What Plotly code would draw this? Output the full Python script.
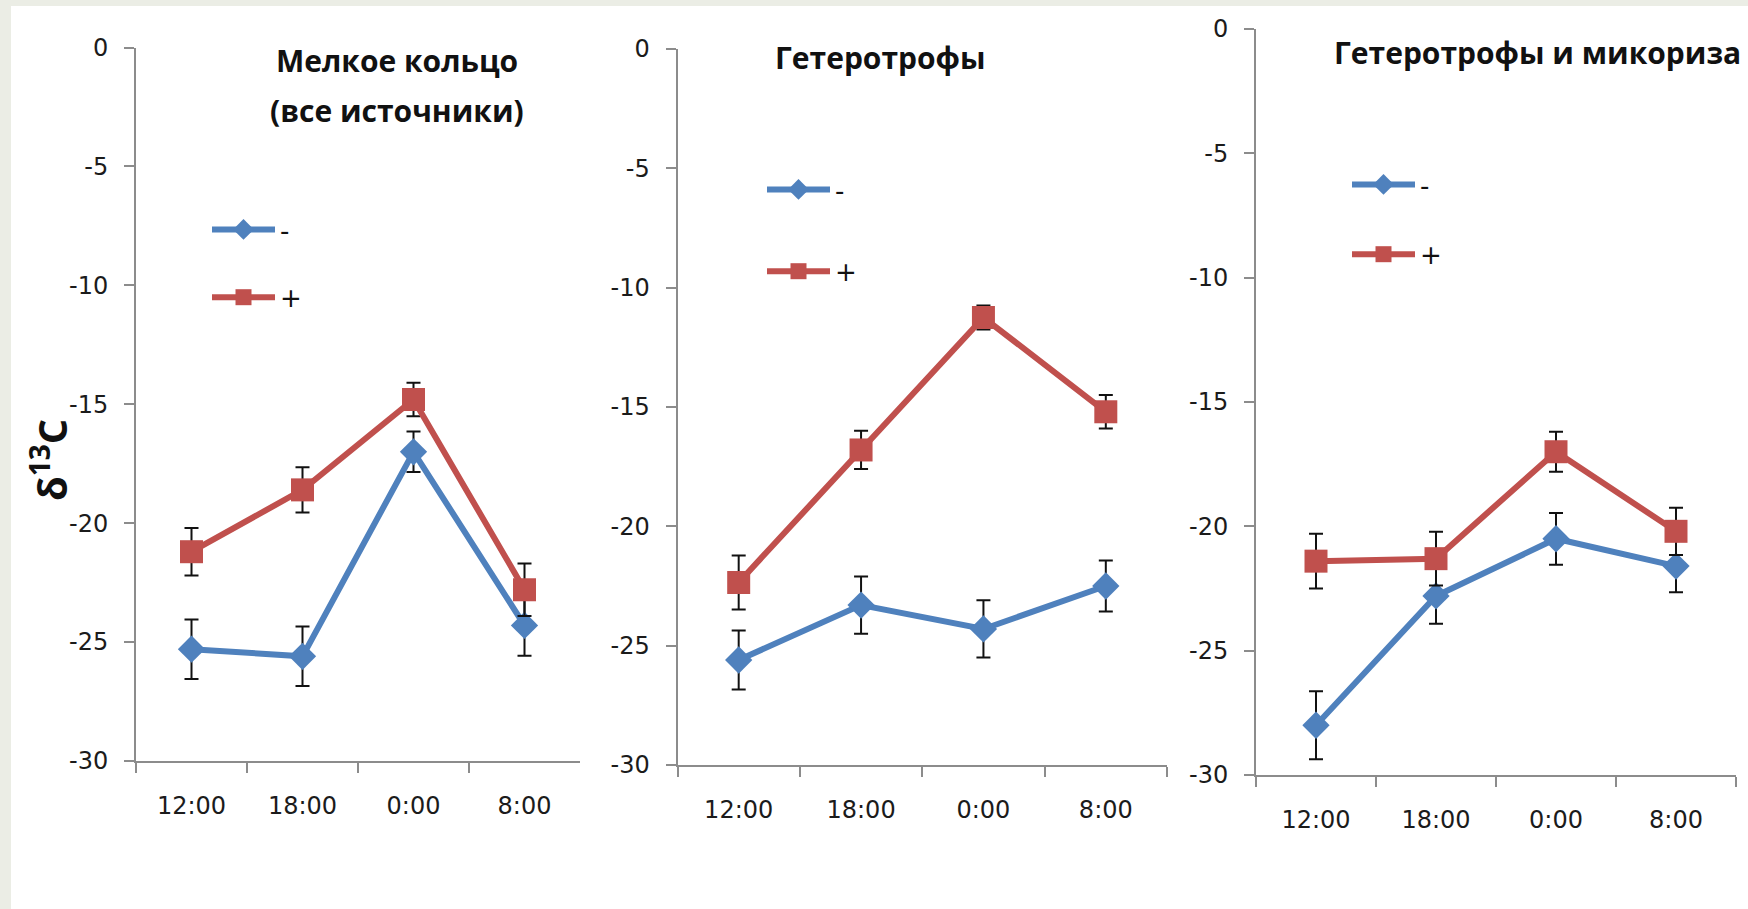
import plotly.graph_objects as go

# Sampling times (categories on every x-axis)
times = ["12:00", "18:00", "0:00", "8:00"]

# Panel titles
titles = [["Мелкое кольцо", "(все источники)"], ["Гетеротрофы"], ["Гетеротрофы и микориза"]]

# δ13C means and error-bar half-widths, "-" treatment
minus_vals = [
    [-25.3, -25.6, -17.0, -24.3],
    [-25.6, -23.3, -24.3, -22.5],
    [-28.0, -22.8, -20.5, -21.6],
]
minus_err = [
    [1.25, 1.25, 0.85, 1.27],
    [1.24, 1.2, 1.2, 1.07],
    [1.37, 1.12, 1.04, 1.05],
]

# δ13C means and error-bar half-widths, "+" treatment
plus_vals = [
    [-21.2, -18.6, -14.8, -22.8],
    [-22.35, -16.8, -11.25, -15.2],
    [-21.4, -21.3, -17.0, -20.2],
]
plus_err = [
    [1.0, 0.95, 0.7, 1.1],
    [1.13, 0.8, 0.5, 0.7],
    [1.1, 1.08, 0.8, 0.95],
]

series_names = ["-", "+"]

# Y-axis ticks (hyphen-minus labels)
y_tickvals = [0, -5, -10, -15, -20, -25, -30]
y_ticktext = ["0", "-5", "-10", "-15", "-20", "-25", "-30"]

W, H = 1748, 909
BLUE = "#4F81BD"
RED = "#C0504D"
AXIS = "#8C8C8C"
TICK_FONT = dict(family="DejaVu Sans", size=24, color="#1b1b1b")


def px_x(v):
    return v / W


def px_y(v):
    return 1 - v / H


# Plot-area boxes in pixels: (left, right, top, bottom)
boxes = [(136, 580, 47.5, 761), (677.5, 1167, 49, 765), (1256, 1736, 29, 775)]
# Legend anchor in pixels (left, top) and the vertical gap between its items
legend_pos = [(207, 206, 31), (762, 166, 45), (1347, 161, 33)]
# Title positions in pixels (center x, center y of each line)
title_pos = [[(397, 60), (397, 110)], [(881, 58)], [(1537, 53)]]

fig = go.Figure()
legend_keys = ["legend", "legend2", "legend3"]

for i in range(3):
    ax = "" if i == 0 else str(i + 1)
    xref = "x" + ax
    yref = "y" + ax
    for vals, errs, color, sym, size, name in [
        (minus_vals[i], minus_err[i], BLUE, "diamond", 21, series_names[0]),
        (plus_vals[i], plus_err[i], RED, "square", 23, series_names[1]),
    ]:
        fig.add_trace(go.Scatter(
            x=times, y=vals,
            mode="lines+markers",
            name=name,
            legend=legend_keys[i],
            legendgroup=f"{name}{i}",
            line=dict(color=color, width=6),
            marker=dict(symbol=sym, size=size, color=color),
            error_y=dict(type="data", array=errs, visible=True,
                         color="#111111", thickness=2, width=7),
            xaxis=xref, yaxis=yref,
        ))

    l, r, t, b = boxes[i]
    xa = dict(
        domain=[px_x(l), px_x(r)],
        type="category", categoryorder="array", categoryarray=times,
        range=[-0.5, 3.5],
        showline=True, linecolor=AXIS, linewidth=2,
        ticks="outside", tickson="boundaries", ticklen=10,
        tickcolor=AXIS, tickwidth=2,
        showgrid=False, zeroline=False,
        tickfont=TICK_FONT, ticklabelstandoff=22,
        anchor=yref, automargin=False,
        fixedrange=True,
    )
    ya = dict(
        domain=[px_y(b), px_y(t)],
        range=[-30, 0],
        tickvals=y_tickvals, ticktext=y_ticktext,
        showline=True, linecolor=AXIS, linewidth=2,
        ticks="outside", ticklen=10, tickcolor=AXIS, tickwidth=2,
        showgrid=False, zeroline=False,
        tickfont=TICK_FONT, ticklabelstandoff=11,
        anchor=xref, automargin=False,
        fixedrange=True,
    )
    fig.update_layout({"xaxis" + ax: xa, "yaxis" + ax: ya})

    lx, ly, gap = legend_pos[i]
    fig.update_layout({legend_keys[i]: dict(
        x=px_x(lx), y=px_y(ly), xanchor="left", yanchor="top",
        bgcolor="rgba(0,0,0,0)", borderwidth=0,
        font=dict(family="DejaVu Sans", size=26, color="#111111"),
        tracegroupgap=gap, itemwidth=63,
    )})

    for text, (cx, cy) in zip(titles[i], title_pos[i]):
        fig.add_annotation(
            text=f"<b>{text}</b>", x=px_x(cx), y=px_y(cy),
            xref="paper", yref="paper", xanchor="center", yanchor="middle",
            showarrow=False,
            font=dict(family="Open Sans", size=30, color="#111111"),
        )

# Y-axis title shared by the row
fig.add_annotation(
    text="<b>δ<sup>13</sup>C</b>", x=px_x(49), y=px_y(460),
    xref="paper", yref="paper", xanchor="center", yanchor="middle",
    textangle=-90, showarrow=False,
    font=dict(family="Open Sans", size=40, color="#111111"),
)

# Light frame strips along the left and top edges
fig.add_shape(type="rect", xref="paper", yref="paper", x0=0, x1=px_x(11), y0=0, y1=1,
              fillcolor="#EBEDE5", line_width=0, layer="below")
fig.add_shape(type="rect", xref="paper", yref="paper", x0=0, x1=1, y0=px_y(6), y1=1,
              fillcolor="#EBEDE5", line_width=0, layer="below")

fig.update_layout(
    width=W, height=H,
    margin=dict(l=0, r=0, t=0, b=0, pad=0, autoexpand=False),
    paper_bgcolor="white", plot_bgcolor="rgba(0,0,0,0)",
    showlegend=True,
)

# The page body gets no default margin so the figure fills the window exactly
fig.write_html("out.html", include_plotlyjs=True, full_html=True,
               config={"displayModeBar": False},
               post_script="document.body.style.margin='0';document.body.style.overflow='hidden';")
